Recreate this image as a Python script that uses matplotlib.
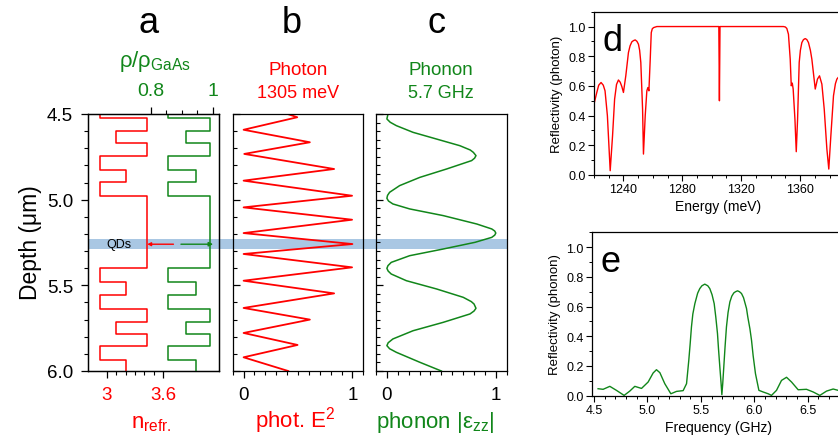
import matplotlib.pyplot as plt
import matplotlib.transforms as mtransforms
from matplotlib.patches import Rectangle
from matplotlib.ticker import MultipleLocator
import numpy as np

plt.rcParams['font.family'] = ['Liberation Sans', 'DejaVu Sans']
plt.rcParams['mathtext.fontset'] = 'custom'
plt.rcParams['mathtext.rm'] = 'Liberation Sans'
plt.rcParams['mathtext.it'] = 'Liberation Sans:italic'
plt.rcParams['mathtext.bf'] = 'Liberation Sans:bold'
plt.rcParams['axes.linewidth'] = 0.9

RED = '#ff0000'
GREEN = '#11861a'
BAND = '#a9c7e3'

# layer stack, depth in um
layer_edges = [4.5, 4.525, 4.597, 4.671, 4.743, 4.825, 4.899, 4.981,
               5.401, 5.479, 5.556, 5.638, 5.712, 5.784, 5.856, 5.934, 6.0]
n_refr = [2.93, 3.43, 3.10, 3.43, 2.93, 3.20, 2.93, 3.43,
          2.93, 3.20, 2.93, 3.43, 3.10, 3.43, 2.93, 3.20]
rho_rel = [0.854, 0.99, 0.912, 0.99, 0.854, 0.944, 0.854, 0.99,
           0.854, 0.944, 0.854, 0.99, 0.912, 0.99, 0.854, 0.944]
qd_depth = 5.26
qd_band = (5.23, 5.29)

# photon |E|^2 at 1305 meV
e2_depth = [4.5, 4.519, 4.592, 4.665, 4.733, 4.821, 4.889, 4.977, 5.045,
            5.117, 5.195, 5.259, 5.317, 5.395, 5.473, 5.547, 5.632, 5.70,
            5.778, 5.848, 5.920, 6.0]
e2_val = [0.405, 0.493, 0.0, 0.609, 0.006, 0.832, 0.0, 0.997, 0.0,
          0.997, 0.0, 1.0, 0.0, 0.997, 0.0, 0.832, 0.0, 0.609,
          0.0, 0.496, 0.0, 0.41]

# phonon strain |eps_zz| at 5.7 GHz
strain_depth = [4.5, 4.529, 4.548, 4.568, 4.607, 4.646, 4.685, 4.71, 4.724,
                4.743, 4.758, 4.772, 4.821, 4.870, 4.918, 4.957, 4.975, 4.992,
                5.008, 5.025, 5.054, 5.093, 5.142, 5.171, 5.183, 5.195, 5.207,
                5.220, 5.249, 5.288, 5.327, 5.366, 5.385, 5.401, 5.417, 5.434,
                5.473, 5.521, 5.570, 5.595, 5.609, 5.634, 5.65, 5.667, 5.716,
                5.765, 5.813, 5.835, 5.852, 5.87, 5.891, 5.949, 6.0]
strain_val = [0.01, 0.0, 0.03, 0.087, 0.24, 0.455, 0.67, 0.765, 0.794,
              0.818, 0.805, 0.778, 0.548, 0.302, 0.117, 0.025, 0.006, 0.0,
              0.015, 0.055, 0.209, 0.517, 0.825, 0.963, 0.99, 1.0, 0.99,
              0.963, 0.809, 0.517, 0.209, 0.04, 0.01, 0.0, 0.012, 0.04,
              0.179, 0.455, 0.701, 0.775, 0.80, 0.818, 0.80, 0.763, 0.517,
              0.24, 0.055, 0.012, 0.0, 0.025, 0.087, 0.302, 0.50]

# optical reflectivity
energy_mev = [1220.1, 1221.9, 1223.2, 1224.8, 1226.3, 1227.5, 1229.1, 1231.0,
              1232.6, 1234.0, 1235.3, 1236.6, 1237.8, 1238.9, 1240.0, 1241.6,
              1243.4, 1244.5, 1245.7, 1246.8, 1248.0, 1249.2, 1250.2, 1251.0,
              1251.8, 1253.0, 1253.6, 1254.8, 1255.9, 1256.6, 1257.3, 1258.2,
              1258.9, 1259.6, 1260.5, 1262.7, 1304.8, 1305.2, 1305.6, 1348.7,
              1350.0, 1351.0, 1352.1, 1353.3, 1354.0, 1354.7, 1355.3, 1356.5,
              1357.4, 1358.3, 1359.4, 1360.2, 1361.2, 1362.3, 1363.5, 1364.6,
              1365.7, 1367.0, 1368.0, 1370.3, 1371.8, 1373.2, 1374.8, 1376.4,
              1378.2, 1379.5, 1380.9, 1382.7, 1384.0, 1385.0, 1385.9]
refl_photon = [0.482, 0.556, 0.605, 0.623, 0.605, 0.567, 0.399, 0.029,
               0.264, 0.511, 0.61, 0.64, 0.625, 0.596, 0.556, 0.668,
               0.825, 0.87, 0.897, 0.905, 0.910, 0.90, 0.881, 0.84,
               0.758, 0.444, 0.141, 0.40, 0.567, 0.589, 0.567, 0.780,
               0.959, 0.985, 0.993, 1.0, 1.0, 0.50, 1.0, 1.0,
               0.997, 0.987, 0.948, 0.78, 0.601, 0.619, 0.579, 0.376,
               0.157, 0.376, 0.758, 0.84, 0.892, 0.912, 0.919, 0.912,
               0.892, 0.84, 0.78, 0.579, 0.646, 0.668, 0.612, 0.444,
               0.175, 0.040, 0.264, 0.534, 0.615, 0.646, 0.657]

# acoustic reflectivity
freq_ghz = [4.537, 4.584, 4.647, 4.709, 4.781, 4.834, 4.881, 4.944, 5.006,
            5.053, 5.084, 5.116, 5.162, 5.219, 5.272, 5.334, 5.366, 5.387,
            5.40, 5.412, 5.425, 5.444, 5.47, 5.490, 5.51, 5.537, 5.565,
            5.584, 5.605, 5.625, 5.64, 5.656, 5.665, 5.678, 5.69, 5.697,
            5.705, 5.715, 5.727, 5.740, 5.755, 5.772, 5.79, 5.809, 5.825,
            5.844, 5.862, 5.881, 5.90, 5.928, 5.94, 5.96, 5.975, 5.99,
            6.012, 6.044, 6.084, 6.131, 6.162, 6.209, 6.256, 6.303, 6.35,
            6.412, 6.49, 6.553, 6.615, 6.678, 6.74, 6.787]
refl_phonon = [0.047, 0.043, 0.063, 0.036, 0.002, 0.031, 0.063, 0.049, 0.092,
               0.153, 0.175, 0.155, 0.081, 0.013, 0.029, 0.034, 0.081, 0.238,
               0.35, 0.463, 0.55, 0.620, 0.69, 0.721, 0.74, 0.751, 0.74,
               0.721, 0.68, 0.620, 0.53, 0.418, 0.32, 0.193, 0.08, 0.007,
               0.08, 0.193, 0.33, 0.463, 0.56, 0.631, 0.67, 0.692, 0.70,
               0.706, 0.70, 0.688, 0.66, 0.587, 0.53, 0.45, 0.373, 0.27,
               0.148, 0.036, 0.025, 0.013, 0.002, 0.036, 0.103, 0.124, 0.092,
               0.04, 0.043, 0.025, 0.002, 0.031, 0.045, 0.036]


def profile(edges, vals):
    # staircase through the layers, value on x, depth on y
    y = np.repeat(edges, 2)[1:-1]
    x = np.repeat(vals, 2)
    return x, y


W, H = 838, 439
fig = plt.figure(figsize=(W / 100, H / 100), dpi=100)


def box(x0, y0, x1, y1):
    return [x0 / W, 1 - y1 / H, (x1 - x0) / W, (y1 - y0) / H]


ax_a = fig.add_axes(box(88.3, 115, 219.3, 372), facecolor='none')
ax_b = fig.add_axes(box(232.7, 115, 363.3, 372), facecolor='none')
ax_c = fig.add_axes(box(376, 115, 506.7, 372), facecolor='none')
# the spectra run past the right edge of the figure
ax_d = fig.add_axes(box(594, 12.7, 841.3, 176))
ax_e = fig.add_axes(box(592, 233.3, 844.9, 396.7))

for ax in (ax_a, ax_b, ax_c):
    ax.set_ylim(6.0, 4.5)
    ax.yaxis.set_major_locator(MultipleLocator(0.5))
    ax.yaxis.set_minor_locator(MultipleLocator(0.1))
    ax.tick_params(which='major', length=5, width=0.9, labelsize=13.5, pad=6)
    ax.tick_params(which='minor', length=3, width=0.8)

# QD layer across the three depth panels
trans = mtransforms.blended_transform_factory(fig.transFigure, ax_a.transData)
fig.add_artist(Rectangle((88.3 / W, qd_band[0]), (506.7 - 88.3) / W,
                         qd_band[1] - qd_band[0], transform=trans,
                         facecolor=BAND, edgecolor='none', zorder=-1))

# a: refractive index and density
x, y = profile(layer_edges, n_refr)
ax_a.plot(x, y, color=RED, lw=1.1)
ax_a.set_xlim(2.8, 4.2)
ax_a.set_xticks([3.0, 3.6], ['3', '3.6'])
ax_a.set_xticks([3.1, 3.2, 3.3, 3.4, 3.5], minor=True)
ax_a.yaxis.set_major_formatter('{x:.1f}')
ax_a.tick_params(axis='x', labelcolor=RED)
ax_a.tick_params(which='both', direction='out')
ax_a.annotate('', xy=(3.43, qd_depth), xytext=(3.71, qd_depth),
              arrowprops=dict(arrowstyle='-|>', color=RED, lw=1.0,
                              mutation_scale=5, shrinkA=0, shrinkB=0))
ax_a.text(3.13, qd_depth, 'QDs', fontsize=9, ha='center', va='center')

ax_rho = ax_a.twiny()
x, y = profile(layer_edges, rho_rel)
ax_rho.plot(x, y, color=GREEN, lw=1.1)
ax_rho.set_xlim(0.6, 1.02)
ax_rho.set_xticks([0.8, 1.0], ['0.8', '1'])
ax_rho.set_xticks([0.85, 0.9, 0.95], minor=True)
ax_rho.tick_params(which='major', length=5, width=0.9, labelsize=14, pad=6,
                   labelcolor=GREEN, direction='out')
ax_rho.tick_params(which='minor', length=3, width=0.8, direction='out')
ax_rho.annotate('', xy=(1.0, qd_depth), xytext=(0.897, qd_depth),
                arrowprops=dict(arrowstyle='-|>', color=GREEN, lw=1.0,
                                mutation_scale=6, shrinkA=0, shrinkB=0))

# b: photon field
ax_b.plot(e2_val, e2_depth, color=RED, lw=1.3)
ax_b.set_xlim(-0.1, 1.1)
ax_b.set_xticks([0, 1], ['0', '1'])
ax_b.xaxis.set_minor_locator(MultipleLocator(0.1))
ax_b.tick_params(axis='y', which='both', direction='in', labelleft=False)
ax_b.tick_params(axis='x', which='both', direction='out')

# c: phonon strain
ax_c.plot(strain_val, strain_depth, color=GREEN, lw=1.1)
ax_c.set_xlim(-0.1, 1.1)
ax_c.set_xticks([0, 1], ['0', '1'])
ax_c.xaxis.set_minor_locator(MultipleLocator(0.1))
ax_c.yaxis.set_minor_locator(MultipleLocator(0.05))
ax_c.tick_params(axis='y', which='both', direction='in', labelleft=False)
ax_c.tick_params(axis='x', which='both', direction='out')


def px(x, y):
    return x / W, 1 - y / H


for letter, xc in (('a', 149), ('b', 292), ('c', 436)):
    fig.text(*px(xc, 33), letter, fontsize=26, ha='center', va='baseline')

fig.text(*px(155, 62), 'ρ/ρ$_{\\mathrm{GaAs}}$', fontsize=16, color=GREEN,
         ha='center', va='center')
fig.text(*px(298, 71), 'Photon', fontsize=13.5, color=RED, ha='center', va='center')
fig.text(*px(298, 94), '1305 meV', fontsize=13, color=RED, ha='center', va='center')
fig.text(*px(441, 71), 'Phonon', fontsize=13.5, color=GREEN, ha='center', va='center')
fig.text(*px(441, 94), '5.7 GHz', fontsize=13, color=GREEN, ha='center', va='center')

fig.text(*px(151, 428), 'n$_{\\mathrm{refr.}}$', fontsize=16, color=RED,
         ha='center', va='baseline')
fig.text(*px(295, 428), 'phot. E$^{2}$', fontsize=16, color=RED,
         ha='center', va='baseline')
fig.text(*px(435, 428), 'phonon |ε$_{\\mathrm{zz}}$|', fontsize=16, color=GREEN,
         ha='center', va='baseline')
fig.text(*px(30, 243), 'Depth (μm)', fontsize=16.5, rotation=90,
         ha='center', va='center')

# d, e: reflectivity spectra
ax_d.plot(energy_mev, refl_photon, color=RED, lw=1.0)
ax_d.set_xlim(1220, 1388)
ax_d.xaxis.set_major_locator(MultipleLocator(40))
ax_d.xaxis.set_minor_locator(MultipleLocator(10))
ax_d.set_xlabel('Energy (meV)', fontsize=10, labelpad=3)
ax_d.set_ylabel('Reflectivity (photon)', fontsize=9.5, labelpad=4)
ax_d.text(0.035, 0.93, 'd', transform=ax_d.transAxes, fontsize=26,
          ha='left', va='top')

ax_e.plot(freq_ghz, refl_phonon, color=GREEN, lw=1.0)
ax_e.set_xlim(4.48, 6.85)
ax_e.xaxis.set_major_locator(MultipleLocator(0.5))
ax_e.xaxis.set_minor_locator(MultipleLocator(0.1))
ax_e.set_xlabel('Frequency (GHz)', fontsize=10, labelpad=3)
ax_e.set_ylabel('Reflectivity (phonon)', fontsize=9.5, labelpad=4)
ax_e.text(0.035, 0.93, 'e', transform=ax_e.transAxes, fontsize=26,
          ha='left', va='top')

for ax in (ax_d, ax_e):
    ax.set_ylim(0, 1.1)
    ax.yaxis.set_major_locator(MultipleLocator(0.2))
    ax.yaxis.set_minor_locator(MultipleLocator(0.1))
    ax.yaxis.set_major_formatter('{x:.1f}')
    ax.tick_params(which='major', length=4, width=0.8, labelsize=9, pad=2)
    ax.tick_params(which='minor', length=2.5, width=0.7)

fig.savefig('out.png', dpi=100)
